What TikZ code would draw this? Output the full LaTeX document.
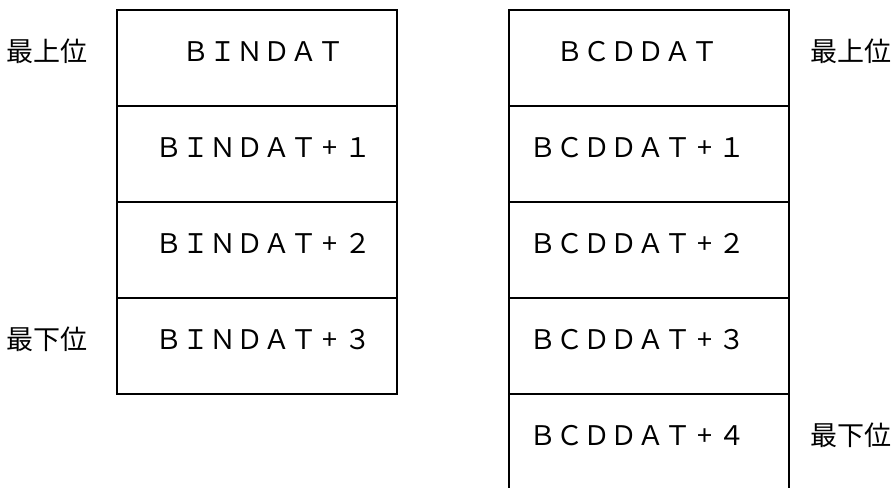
\documentclass[tikz,border=0pt]{standalone}
\usepackage{fontspec}
\usepackage{tikz}
\usetikzlibrary{positioning}
\newfontfamily\jpfont{Noto Sans CJK JP}
\newcommand{\cellplus}{\makebox[1em]{+}}

\begin{document}
\begin{tikzpicture}[
    x=1pt, y=-1pt,
    cell/.style={draw=black, line width=1.6pt, minimum width=280pt,
      minimum height=96pt, inner sep=0pt, outer sep=0pt},
    celltext/.style={anchor=base, inner sep=0pt,
      font=\jpfont\fontsize{27}{32}\selectfont},
    sidelabel/.style={inner sep=0pt,
      font=\jpfont\fontsize{27}{32}\selectfont}
  ]
    \useasboundingbox (0,0) rectangle (893,487);
    \clip (0,0) rectangle (893,487);
    % left column
    \node[cell] (bin0) at (257,58) {};
    \node[cell, below=0pt of bin0] (bin1) {};
    \node[cell, below=0pt of bin1] (bin2) {};
    \node[cell, below=0pt of bin2] (bin3) {};
    \node[celltext] (bin0t) at ([xshift=6pt, yshift=-51pt]bin0.north) {ＢＩＮＤＡＴ};
    \node[celltext] (bin1t) at ([xshift=6pt, yshift=-51pt]bin1.north) {ＢＩＮＤＡＴ\cellplus１};
    \node[celltext] (bin2t) at ([xshift=6pt, yshift=-51pt]bin2.north) {ＢＩＮＤＡＴ\cellplus２};
    \node[celltext] (bin3t) at ([xshift=6pt, yshift=-51pt]bin3.north) {ＢＩＮＤＡＴ\cellplus３};
    % right column
    \node[cell] (bcd0) at (649,58) {};
    \node[cell, below=0pt of bcd0] (bcd1) {};
    \node[cell, below=0pt of bcd1] (bcd2) {};
    \node[cell, below=0pt of bcd2] (bcd3) {};
    \node[cell, below=0pt of bcd3] (bcd4) {};
    \node[celltext] (bcd0t) at ([xshift=-12pt, yshift=-51pt]bcd0.north) {ＢＣＤＤＡＴ};
    \node[celltext] (bcd1t) at ([xshift=-12pt, yshift=-51pt]bcd1.north) {ＢＣＤＤＡＴ\cellplus１};
    \node[celltext] (bcd2t) at ([xshift=-12pt, yshift=-51pt]bcd2.north) {ＢＣＤＤＡＴ\cellplus２};
    \node[celltext] (bcd3t) at ([xshift=-12pt, yshift=-51pt]bcd3.north) {ＢＣＤＤＡＴ\cellplus３};
    \node[celltext] (bcd4t) at ([xshift=-12pt, yshift=-51pt]bcd4.north) {ＢＣＤＤＡＴ\cellplus４};
    % side labels
    \node[sidelabel, anchor=base east] (binhi) at ([xshift=-29pt]bin0t.base -| bin0.west) {最上位};
    \node[sidelabel, anchor=base east] (binlo) at ([xshift=-29pt]bin3t.base -| bin3.west) {最下位};
    \node[sidelabel, anchor=base west] (bcdhi) at ([xshift=21pt]bcd0t.base -| bcd0.east) {最上位};
    \node[sidelabel, anchor=base west] (bcdlo) at ([xshift=21pt]bcd4t.base -| bcd4.east) {最下位};
  \end{tikzpicture}
\end{document}
